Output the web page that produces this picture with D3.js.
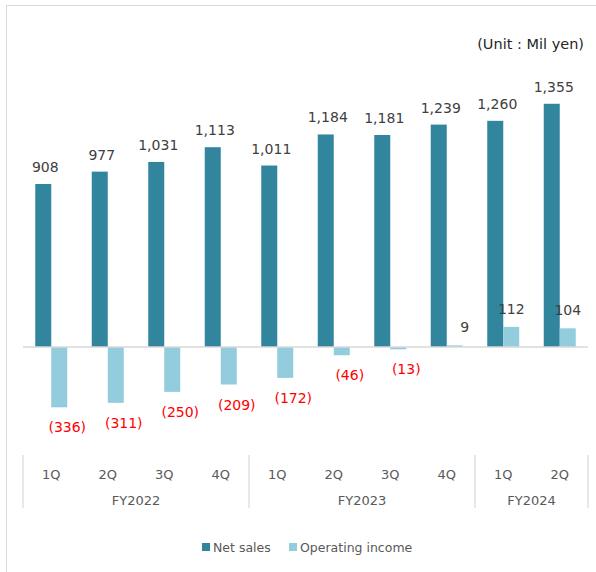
<!DOCTYPE html>
<html>
<head>
<meta charset="utf-8">
<script src="https://cdn.jsdelivr.net/npm/d3@7/dist/d3.min.js"></script>
<style>
  html, body { margin: 0; padding: 0; background: #fff; }
  svg { display: block; font-family: "DejaVu Sans", Verdana, sans-serif; }
</style>
</head>
<body>
<svg id="chart" width="596" height="572"></svg>
<script>
// Quarterly results, FY2022–FY2024 (million yen)
const quarters = ["1Q", "2Q", "3Q", "4Q", "1Q", "2Q", "3Q", "4Q", "1Q", "2Q"];
const fiscalYears = ["FY2022", "FY2023", "FY2024"];
const quartersPerYear = [4, 4, 2];
const netSales = [908, 977, 1031, 1113, 1011, 1184, 1181, 1239, 1260, 1355];
const operatingIncome = [-336, -311, -250, -209, -172, -46, -13, 9, 112, 104];
const seriesNames = ["Net sales", "Operating income"];

const colors = ["#31859C", "#93CDDD"];
const svg = d3.select("#chart");

// outer frame
svg.append("rect")
  .attr("x", 6.5).attr("y", 5.5)
  .attr("width", 620).attr("height", 620)
  .attr("fill", "none").attr("stroke", "#D9D9D9");

// unit note
svg.append("text")
  .attr("x", 584).attr("y", 49)
  .attr("text-anchor", "end")
  .attr("font-size", 14.5)
  .attr("fill", "#262626")
  .text("(Unit : Mil yen)");

const idx = d3.range(quarters.length);
const x = d3.scaleBand().domain(idx).range([23, 588]).padding(0);
const barW = 16;
const inner = d3.scaleBand().domain([0, 1]).range([-barW, barW]);

const y = d3.scaleLinear().domain([-400, 1400]).range([418.8, 95.7]);

const plot = svg.append("g");

// net sales bars
plot.selectAll("rect.sales").data(netSales).join("rect")
  .attr("class", "sales")
  .attr("x", (d, i) => x(i) + x.bandwidth() / 2 + inner(0))
  .attr("width", inner.bandwidth())
  .attr("y", d => y(Math.max(0, d)))
  .attr("height", d => Math.abs(y(d) - y(0)))
  .attr("fill", colors[0]);

// operating income bars
plot.selectAll("rect.oi").data(operatingIncome).join("rect")
  .attr("class", "oi")
  .attr("x", (d, i) => x(i) + x.bandwidth() / 2 + inner(1))
  .attr("width", inner.bandwidth())
  .attr("y", d => y(Math.max(0, d)))
  .attr("height", d => Math.abs(y(d) - y(0)))
  .attr("fill", colors[1]);

// zero baseline
svg.append("line")
  .attr("x1", 23).attr("x2", 588)
  .attr("y1", y(0)).attr("y2", y(0))
  .attr("stroke", "#D9D9D9").attr("stroke-width", 1.5);

const fmt = d3.format(",");

// net sales labels
plot.selectAll("text.sales").data(netSales).join("text")
  .attr("class", "sales")
  .attr("x", (d, i) => x(i) + x.bandwidth() / 2 + inner(0) + inner.bandwidth() / 2 + 2)
  .attr("y", d => y(d) - 12)
  .attr("text-anchor", "middle")
  .attr("font-size", 14)
  .attr("fill", "#404040")
  .text(d => fmt(d));

// operating income labels: losses in red parentheses below the bar
plot.selectAll("text.oi").data(operatingIncome).join("text")
  .attr("class", "oi")
  .attr("x", (d, i) => {
    const cx = x(i) + x.bandwidth() / 2 + inner(1) + inner.bandwidth() / 2;
    if (d < 0) return cx + 8;
    return d < 20 ? cx + 10 : cx;
  })
  .attr("y", d => d < 0 ? y(d) + 25 : y(d) - 13)
  .attr("text-anchor", "middle")
  .attr("font-size", 14)
  .attr("fill", d => d < 0 ? "#FF0000" : "#404040")
  .text(d => d < 0 ? "(" + fmt(-d) + ")" : fmt(d));

// category axis: quarters
const axisG = svg.append("g");
axisG.selectAll("text.q").data(quarters).join("text")
  .attr("class", "q")
  .attr("x", (d, i) => x(i) + x.bandwidth() / 2)
  .attr("y", 479)
  .attr("text-anchor", "middle")
  .attr("font-size", 13)
  .attr("fill", "#595959")
  .text(d => d);

// fiscal year groups and dividers
let start = 0;
const bounds = [0];
fiscalYears.forEach((fy, k) => {
  const end = start + quartersPerYear[k];
  const x0 = x(start), x1 = x(end - 1) + x.bandwidth();
  axisG.append("text")
    .attr("x", (x0 + x1) / 2)
    .attr("y", 505)
    .attr("text-anchor", "middle")
    .attr("font-size", 13)
    .attr("fill", "#595959")
    .text(fy);
  bounds.push(end);
  start = end;
});
axisG.selectAll("line.div").data(bounds).join("line")
  .attr("class", "div")
  .attr("x1", b => b < quarters.length ? x(b) : x(quarters.length - 1) + x.bandwidth())
  .attr("x2", b => b < quarters.length ? x(b) : x(quarters.length - 1) + x.bandwidth())
  .attr("y1", 455).attr("y2", 508)
  .attr("stroke", "#D9D9D9").attr("stroke-width", 1.2);

// legend
const legendX = [202, 289];
const legend = svg.append("g");
seriesNames.forEach((name, k) => {
  legend.append("rect")
    .attr("x", legendX[k]).attr("y", 543)
    .attr("width", 8).attr("height", 8)
    .attr("fill", colors[k]);
  legend.append("text")
    .attr("x", legendX[k] + 11).attr("y", 551.5)
    .attr("font-size", 12.5)
    .attr("fill", "#595959")
    .text(name);
});
</script>
</body>
</html>
